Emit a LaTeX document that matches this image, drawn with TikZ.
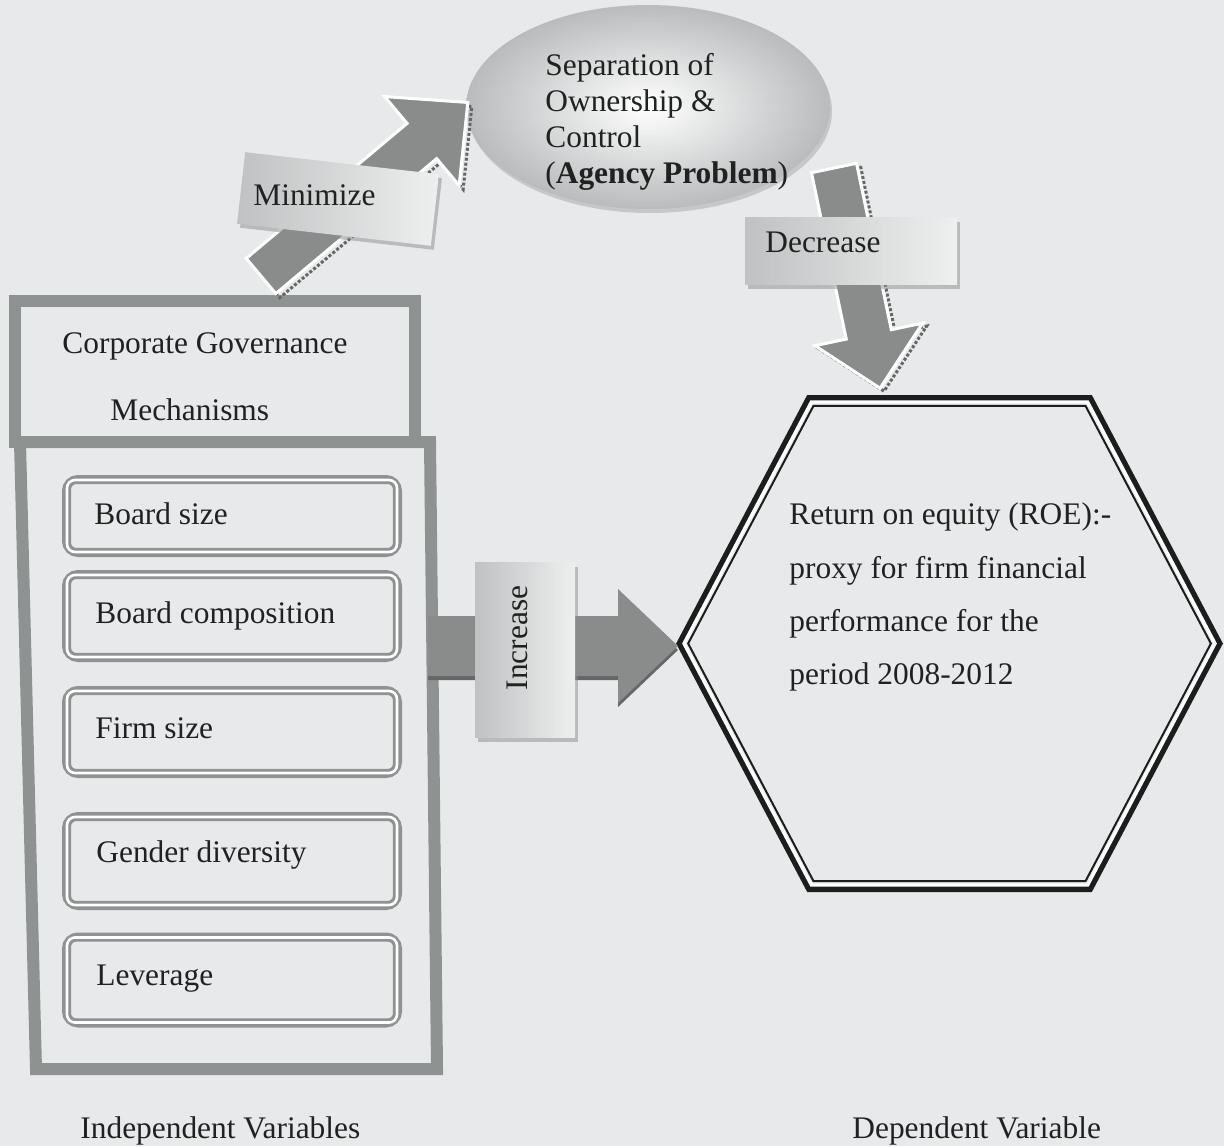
\documentclass[tikz,border=0pt]{standalone}
\usepackage{fontspec}
\setmainfont{Liberation Serif}
\usetikzlibrary{shapes.geometric,shadows}
\definecolor{bg}{HTML}{E8E9EB}
\definecolor{framegray}{HTML}{8E9291}
\definecolor{arrgray}{HTML}{8A8B8B}
\definecolor{arrdark}{HTML}{656666}
\definecolor{txt}{HTML}{1E2220}
\definecolor{hexline}{HTML}{1C1E1D}
\definecolor{labdark}{HTML}{BFC1C2}
\definecolor{lablight}{HTML}{EEEFEF}
\definecolor{ellgray}{HTML}{B9BBBC}
\newcommand\fsz{\fontsize{15.7}{18}\selectfont}
\begin{document}
\begin{tikzpicture}[x=0.5pt,y=-0.5pt,
 lab/.style={font=\fsz, text=txt, inner sep=0pt, anchor=base west},
 frame/.style={draw=framegray, line width=6pt, line join=miter},
 varbox/.style={rectangle, rounded corners=6pt, draw=framegray, line width=4pt, minimum width=166pt, inner sep=0pt},
 varwhite/.style={draw=white, line width=1.3pt, rounded corners=4pt},
 varinner/.style={draw=framegray, line width=1.1pt, rounded corners=3pt},
 blockarrow/.style={fill=arrgray, draw=white, line width=1.5pt, line join=miter},
 arrshadow/.style={draw=arrdark, line width=1.5pt, dash pattern=on 1.5pt off 1pt, line join=miter},
 labbox/.style={rectangle, inner sep=0pt, left color=labdark, right color=lablight, drop shadow={shadow xshift=1.5pt, shadow yshift=-2pt, fill=black!45}},
 hexouter/.style={draw=hexline, line width=3pt, line join=miter},
 hexwhite/.style={draw=white, line width=1.5pt, line join=miter},
 hexinner/.style={draw=hexline, line width=1pt, line join=miter},
]
\fill[bg] (0,0) rectangle (1224,1146);
\useasboundingbox (0,0) rectangle (1224,1146);

% left frame
\draw[frame] (15,301) rectangle (415,442);
\draw[frame] (20,442) -- (430,442) -- (437,1069) -- (36,1069) -- cycle;
\node[lab] (cg1) at (62,353) {Corporate Governance};
\node[lab] (cg2) at (110,420) {Mechanisms};

% variable boxes
\node[varbox, minimum height=37pt] (v1) at (232,516) {};
\draw[varwhite] ([shift={(5,5)}]v1.north west) rectangle ([shift={(-5,-5)}]v1.south east);
\draw[varinner] ([shift={(8,8)}]v1.north west) rectangle ([shift={(-8,-8)}]v1.south east);
\node[lab] (t1) at (94,524) {Board size};

\node[varbox, minimum height=42pt] (v2) at (232,616) {};
\draw[varwhite] ([shift={(5,5)}]v2.north west) rectangle ([shift={(-5,-5)}]v2.south east);
\draw[varinner] ([shift={(8,8)}]v2.north west) rectangle ([shift={(-8,-8)}]v2.south east);
\node[lab] (t2) at (95,623) {Board composition};

\node[varbox, minimum height=42pt] (v3) at (232,732) {};
\draw[varwhite] ([shift={(5,5)}]v3.north west) rectangle ([shift={(-5,-5)}]v3.south east);
\draw[varinner] ([shift={(8,8)}]v3.north west) rectangle ([shift={(-8,-8)}]v3.south east);
\node[lab] (t3) at (95,738) {Firm size};

\node[varbox, minimum height=45pt] (v4) at (232,861) {};
\draw[varwhite] ([shift={(5,5)}]v4.north west) rectangle ([shift={(-5,-5)}]v4.south east);
\draw[varinner] ([shift={(8,8)}]v4.north west) rectangle ([shift={(-8,-8)}]v4.south east);
\node[lab] (t4) at (96,862) {Gender diversity};

\node[varbox, minimum height=43.5pt] (v5) at (232,980) {};
\draw[varwhite] ([shift={(5,5)}]v5.north west) rectangle ([shift={(-5,-5)}]v5.south east);
\draw[varinner] ([shift={(8,8)}]v5.north west) rectangle ([shift={(-8,-8)}]v5.south east);
\node[lab] (t5) at (96,985) {Leverage};

% hexagon
\begin{scope}[shift={(949.5,643.5)}]
 \draw[hexouter] (-140.5,-245.5) -- (140.5,-245.5) -- (270,0) -- (140.5,245.5) -- (-140.5,245.5) -- (-270,0) -- cycle;
 \begin{scope}[scale=0.984]
  \draw[hexwhite] (-140.5,-245.5) -- (140.5,-245.5) -- (270,0) -- (140.5,245.5) -- (-140.5,245.5) -- (-270,0) -- cycle;
 \end{scope}
 \begin{scope}[scale=0.968]
  \draw[hexinner] (-140.5,-245.5) -- (140.5,-245.5) -- (270,0) -- (140.5,245.5) -- (-140.5,245.5) -- (-270,0) -- cycle;
 \end{scope}
\end{scope}
\node[lab] (h1) at (789,524) {Return on equity (ROE):-};
\node[lab] (h2) at (789,578) {proxy for firm financial};
\node[lab] (h3) at (789,631) {performance for the};
\node[lab] (h4) at (789,684) {period 2008-2012};

% ellipse
\node[ellipse, minimum width=182pt, minimum height=102pt, inner sep=0pt, inner color=white, outer color=ellgray, drop shadow={shadow xshift=1pt, shadow yshift=-2pt, fill=black!35}] (sep) at (648,107) {};

% Minimize arrow
\begin{scope}[shift={(265,280)}, rotate=40]
 \draw[arrshadow] (0,-23) -- (210,-23) -- (210,-58) -- (270,0) -- (210,58) -- (210,23) -- (0,23) -- cycle;
\end{scope}
\begin{scope}[shift={(261,276)}, rotate=40]
 \draw[blockarrow] (0,-23) -- (210,-23) -- (210,-58) -- (270,0) -- (210,58) -- (210,23) -- (0,23) -- cycle;
\end{scope}

% Decrease arrow
\begin{scope}[shift={(838,171)}, rotate=-78.2]
 \draw[arrshadow] (0,-23) -- (170,-23) -- (170,-55) -- (225,0) -- (170,55) -- (170,23) -- (0,23) -- cycle;
\end{scope}
\begin{scope}[shift={(834,168)}, rotate=-78.2]
 \draw[blockarrow] (0,-23) -- (170,-23) -- (170,-55) -- (225,0) -- (170,55) -- (170,23) -- (0,23) -- cycle;
\end{scope}

% Increase arrow
\begin{scope}[shift={(428,650)}]
 \fill[arrdark] (0,-30) -- (190,-30) -- (190,-57) -- (250,0) -- (190,57) -- (190,30) -- (0,30) -- cycle;
\end{scope}
\begin{scope}[shift={(428,646)}]
 \fill[arrgray] (0,-30) -- (190,-30) -- (190,-57) -- (250,0) -- (190,57) -- (190,30) -- (0,30) -- cycle;
\end{scope}

% ellipse text
\node[lab] (sep1) at (545,75) {Separation of};
\node[lab] (sep2) at (545,111) {Ownership \&};
\node[lab] (sep3) at (545,147) {Control};
\node[lab] (sep4) at (545,183) {(\textbf{Agency Problem})};

% labels
\node[labbox, minimum width=97.5pt, minimum height=36pt, rotate=-6.5] (minbox) at (338,199) {};
\node[lab] (mintext) at (253,205) {Minimize};
\node[labbox, minimum width=106pt, minimum height=33.5pt] (decbox) at (851,251) {};
\node[lab] (dectext) at (765,252) {Decrease};
\node[labbox, minimum width=50pt, minimum height=87.5pt] (incbox) at (525,650) {};
\node[font=\fsz, text=txt, inner sep=0pt, anchor=base, rotate=90] (inctext) at (527,638) {Increase};

% captions
\node[lab] (indep) at (80,1138) {Independent Variables};
\node[lab] (dep) at (852,1138) {Dependent Variable};
\end{tikzpicture}
\end{document}
